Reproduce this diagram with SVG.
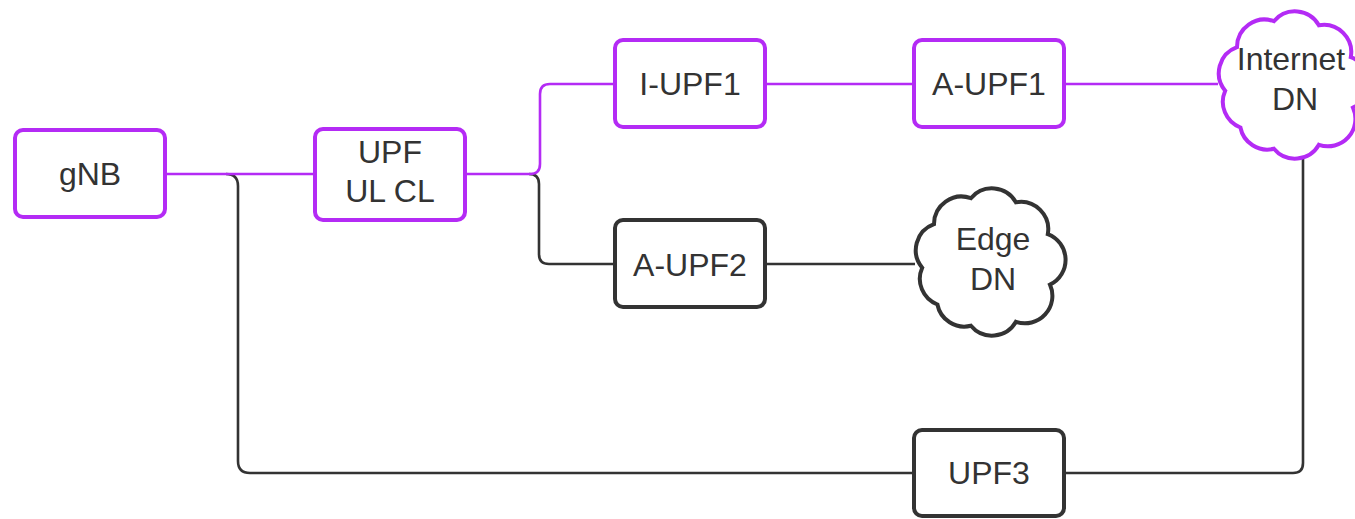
<svg xmlns="http://www.w3.org/2000/svg" width="1355" height="519" viewBox="0 0 1355 519">
  <defs>
    <style>
      .box { fill: #ffffff; stroke-width: 4; }
      .purple { stroke: #b42bf5; }
      .dark { stroke: #333333; }
      .link { fill: none; stroke-width: 2.6; stroke-linejoin: round; }
      .label { font-family: "Liberation Sans", Arial, sans-serif; font-size: 32px; fill: #333333; text-anchor: middle; }
    </style>
    <!-- cloud outline centred on the origin, about 152 x 152 -->
    <path id="cloud" d="M-65.8,5.7 A27.5,27.5 0 0 1 -54,-37.8 A27.5,27.5 0 0 1 -17.1,-63.8 A27.5,27.5 0 0 1 27.9,-59.8 A27.5,27.5 0 0 1 59.8,-27.9 A27.5,27.5 0 0 1 62,22.6 A27.5,27.5 0 0 1 27.9,59.8 A27.5,27.5 0 0 1 -17.1,63.8 A27.5,27.5 0 0 1 -50.6,42.5 A27.5,27.5 0 0 1 -65.8,5.7 Z"/>
  </defs>

  <rect width="1355" height="519" fill="#ffffff"/>

  <g id="connectors">
    <!-- dark paths first so the purple ones sit on top -->
    <path class="link dark" d="M226,174 Q238,174 238,186 L238,461 Q238,473 250,473 L914,473"/>
    <path class="link dark" d="M529,174 Q539,174 539,184 L539,254 Q539,264 549,264 L615,264"/>
    <path class="link dark" d="M765,264 L915,264"/>
    <path class="link dark" d="M1303,156 L1303,463 Q1303,473 1293,473 L1064,473"/>
    <path class="link purple" d="M165,174 L315,174"/>
    <path class="link purple" d="M465,174 L530,174 Q540,174 540,164 L540,94 Q540,84 550,84 L615,84"/>
    <path class="link purple" d="M765,84 L914,84"/>
    <path class="link purple" d="M1064,84 L1218,84"/>
  </g>

  <g id="gnb">
    <rect class="box purple" x="15" y="130" width="150" height="87" rx="8"/>
    <text class="label" x="90" y="185">gNB</text>
  </g>

  <g id="upf-ulcl">
    <rect class="box purple" x="315" y="129" width="150" height="91" rx="8"/>
    <text class="label" x="390" y="163">UPF</text>
    <text class="label" x="390" y="202">UL CL</text>
  </g>

  <g id="i-upf1">
    <rect class="box purple" x="615" y="40" width="150" height="87" rx="8"/>
    <text class="label" x="690" y="95">I-UPF1</text>
  </g>

  <g id="a-upf1">
    <rect class="box purple" x="914" y="40" width="150" height="87" rx="8"/>
    <text class="label" x="989" y="95">A-UPF1</text>
  </g>

  <g id="a-upf2">
    <rect class="box dark" x="615" y="220" width="150" height="87" rx="8"/>
    <text class="label" x="690" y="276">A-UPF2</text>
  </g>

  <g id="upf3">
    <rect class="box dark" x="914" y="430" width="150" height="86" rx="8"/>
    <text class="label" x="989" y="484">UPF3</text>
  </g>

  <g id="internet-dn">
    <use href="#cloud" class="box purple" transform="translate(1291,85)"/>
    <text class="label" x="1291" y="70">Internet</text>
    <text class="label" x="1295" y="110">DN</text>
  </g>

  <g id="edge-dn">
    <use href="#cloud" class="box dark" transform="translate(988,262)"/>
    <text class="label" x="993" y="250">Edge</text>
    <text class="label" x="993" y="290">DN</text>
  </g>
</svg>
